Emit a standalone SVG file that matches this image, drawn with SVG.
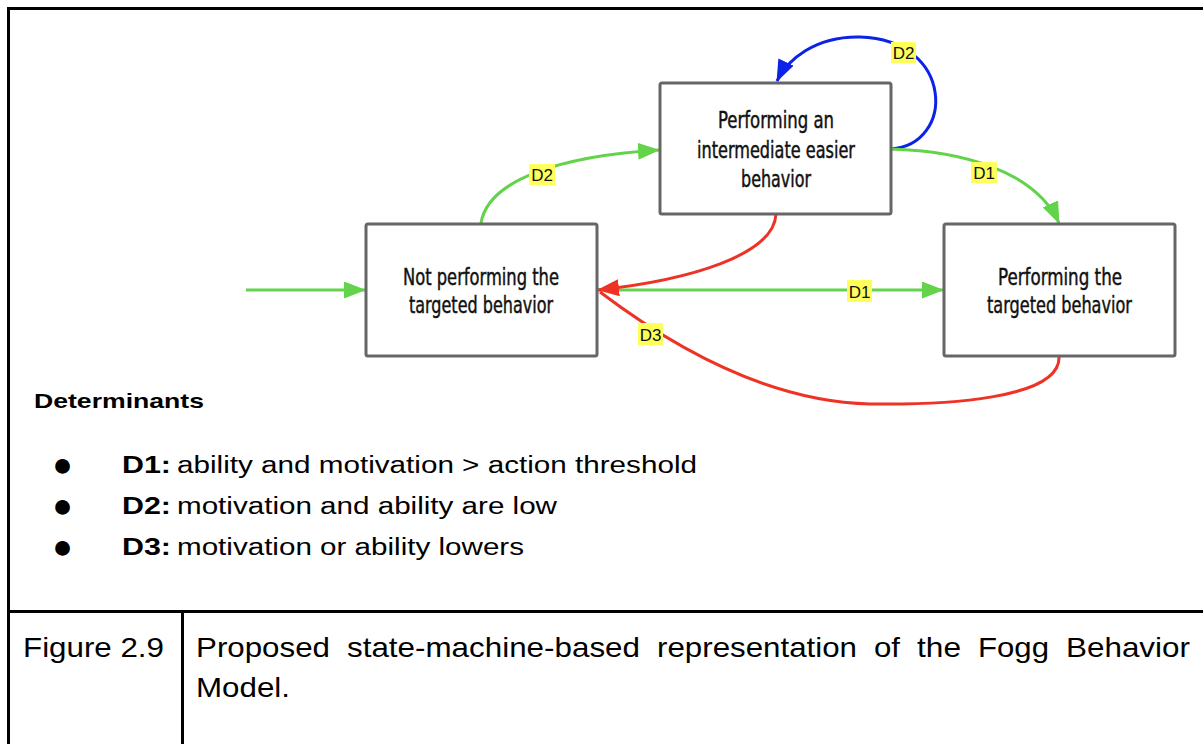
<svg xmlns="http://www.w3.org/2000/svg" width="1203" height="744" viewBox="0 0 1203 744">
<style>
.node rect{fill:#fff;stroke:#666;stroke-width:3}
.nt{font-family:"DejaVu Sans Condensed","DejaVu Sans",sans-serif;font-size:23px;fill:#111;stroke:#111;stroke-width:0.45;text-anchor:start}
.conn path{fill:none;stroke-width:3}
.g{stroke:#63d34b}
.r{stroke:#ee3325}
.b{stroke:#0b22e8}
.lbl rect{fill:#ffff5c}
.lbl text{font-family:"Liberation Sans",Arial,sans-serif;font-size:17px;fill:#111;text-anchor:middle}
.doc{font-family:"Liberation Sans",Arial,sans-serif;fill:#000}
.bul{font-family:"Liberation Sans",Arial,sans-serif;font-size:34px;fill:#000;text-anchor:middle}
.frame{stroke:#000;stroke-width:3;fill:none}
</style>
<defs>
<marker id="ag" viewBox="0 0 22 17" refX="21" refY="8.5" markerWidth="22" markerHeight="17" markerUnits="userSpaceOnUse" orient="auto"><path d="M0,0 L22,8.5 L0,17 z" fill="#63d34b"/></marker>
<marker id="ar" viewBox="0 0 22 17" refX="21" refY="8.5" markerWidth="22" markerHeight="17" markerUnits="userSpaceOnUse" orient="auto"><path d="M0,0 L22,8.5 L0,17 z" fill="#ee3325"/></marker>
<marker id="ab" viewBox="0 0 22 17" refX="21" refY="8.5" markerWidth="22" markerHeight="17" markerUnits="userSpaceOnUse" orient="auto"><path d="M0,0 L22,8.5 L0,17 z" fill="#0b22e8"/></marker>
</defs>
<rect width="1203" height="744" fill="#fff"/>
<g id="frame" class="frame">
<path d="M8.5,744 V8.5 H1203"/>
<path d="M7,611.5 H1203"/>
<path d="M182.5,611 V744"/>
</g>
<g id="connectors" class="conn">
<path class="g" d="M246,290 L365,290" marker-end="url(#ag)"/>
<path class="g" d="M598,290 L943,290" marker-end="url(#ag)"/>
<path class="g" d="M481,223 C488,180 560,156 659,150" marker-end="url(#ag)"/>
<path class="b" d="M891,149 C955,145 955,40 860,37 C815,36 787,60 777,81" marker-end="url(#ab)"/>
<path class="g" d="M891,149 C960,151 1035,170 1059,223" marker-end="url(#ag)"/>
<path class="r" d="M1059,356 C1062,400 940,405 870,404 C780,402 690,360 600,292"/>
<path class="r" d="M776,214 C774,255 690,280 598,290" marker-end="url(#ar)"/>
</g>
<g id="labels" class="lbl">
<g id="lbl-d2a"><rect x="529" y="164" width="26" height="21"/><text x="542" y="181">D2</text></g>
<g id="lbl-d2b"><rect x="891" y="42" width="25" height="21"/><text x="903.5" y="59">D2</text></g>
<g id="lbl-d1a"><rect x="971" y="162" width="26" height="21"/><text x="984" y="179">D1</text></g>
<g id="lbl-d1b"><rect x="847" y="280" width="25" height="22"/><text x="859.5" y="297.5">D1</text></g>
<g id="lbl-d3"><rect x="638" y="323" width="25" height="22"/><text x="650.5" y="340.5">D3</text></g>
</g>
<g id="node-not" class="node">
<rect x="366" y="224" width="231" height="132" rx="2"/>
<text class="nt" x="403" y="285" textLength="156" lengthAdjust="spacingAndGlyphs">Not performing the</text>
<text class="nt" x="409" y="313" textLength="144" lengthAdjust="spacingAndGlyphs">targeted behavior</text>
</g>
<g id="node-intermediate" class="node">
<rect x="660" y="83" width="231" height="131" rx="2"/>
<text class="nt" x="718" y="128" textLength="116" lengthAdjust="spacingAndGlyphs">Performing an</text>
<text class="nt" x="697" y="158" textLength="158" lengthAdjust="spacingAndGlyphs">intermediate easier</text>
<text class="nt" x="741" y="187" textLength="70" lengthAdjust="spacingAndGlyphs">behavior</text>
</g>
<g id="node-performing" class="node">
<rect x="944" y="224" width="231" height="132" rx="2"/>
<text class="nt" x="998" y="285" textLength="124" lengthAdjust="spacingAndGlyphs">Performing the</text>
<text class="nt" x="987" y="313" textLength="145" lengthAdjust="spacingAndGlyphs">targeted behavior</text>
</g>
<g id="legend" class="doc">
<text x="34" y="408" font-size="21" font-weight="bold" textLength="170" lengthAdjust="spacingAndGlyphs">Determinants</text>
<text class="bul" x="62.5" y="476">●</text>
<text class="bul" x="62.5" y="517">●</text>
<text class="bul" x="62.5" y="558">●</text>
<text x="122" y="473" font-size="23.3" font-weight="bold" textLength="49" lengthAdjust="spacingAndGlyphs">D1:</text>
<text x="177" y="473" font-size="23.3" textLength="520" lengthAdjust="spacingAndGlyphs">ability and motivation &gt; action threshold</text>
<text x="122" y="514" font-size="23.3" font-weight="bold" textLength="49" lengthAdjust="spacingAndGlyphs">D2:</text>
<text x="177" y="514" font-size="23.3" textLength="380" lengthAdjust="spacingAndGlyphs">motivation and ability are low</text>
<text x="122" y="555" font-size="23.3" font-weight="bold" textLength="49" lengthAdjust="spacingAndGlyphs">D3:</text>
<text x="177" y="555" font-size="23.3" textLength="347" lengthAdjust="spacingAndGlyphs">motivation or ability lowers</text>
</g>
<g id="caption" class="doc" font-size="28">
<text x="23" y="657" textLength="141" lengthAdjust="spacingAndGlyphs">Figure 2.9</text>
<text x="196" y="657" textLength="134" lengthAdjust="spacingAndGlyphs">Proposed</text>
<text x="347" y="657" textLength="293" lengthAdjust="spacingAndGlyphs">state-machine-based</text>
<text x="657" y="657" textLength="200" lengthAdjust="spacingAndGlyphs">representation</text>
<text x="874" y="657" textLength="26" lengthAdjust="spacingAndGlyphs">of</text>
<text x="917" y="657" textLength="44" lengthAdjust="spacingAndGlyphs">the</text>
<text x="978" y="657" textLength="71" lengthAdjust="spacingAndGlyphs">Fogg</text>
<text x="1066" y="657" textLength="124" lengthAdjust="spacingAndGlyphs">Behavior</text>
<text x="196" y="697" textLength="94" lengthAdjust="spacingAndGlyphs">Model.</text>
</g>
</svg>
